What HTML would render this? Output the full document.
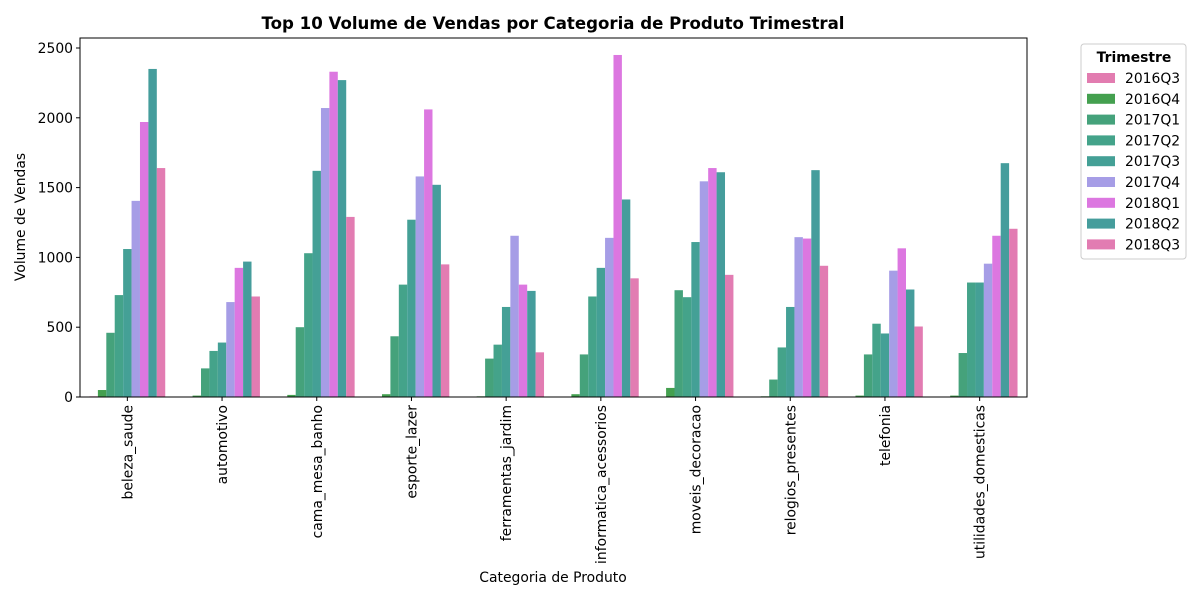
<!DOCTYPE html>
<html><head><meta charset="utf-8"><style>
body{margin:0;background:#fff;font-family:"Liberation Sans","DejaVu Sans",sans-serif}
</style></head><body>
<svg id="chart" width="1200" height="600" xmlns="http://www.w3.org/2000/svg" font-family="DejaVu Sans, Liberation Sans, sans-serif">
<rect width="1200" height="600" fill="#fff"/>
<text x="553" y="29" text-anchor="middle" font-size="16.6" font-weight="bold">Top 10 Volume de Vendas por Categoria de Produto Trimestral</text>
<g id="plot"></g>
<text x="553" y="582" text-anchor="middle" font-size="13.9">Categoria de Produto</text>
<text transform="translate(25,217) rotate(-90)" text-anchor="middle" font-size="13.9">Volume de Vendas</text>
<g id="legend"></g>
</svg>
<script>
const categories=["beleza_saude","automotivo","cama_mesa_banho","esporte_lazer","ferramentas_jardim","informatica_acessorios","moveis_decoracao","relogios_presentes","telefonia","utilidades_domesticas"];
const quarters=["2016Q3","2016Q4","2017Q1","2017Q2","2017Q3","2017Q4","2018Q1","2018Q2","2018Q3"];
const colors=["#e27cb0","#44a04f","#45a27b","#44a38a","#44a096","#a69de6","#dc77e0","#459d9c","#e27cb2"];
const s2016Q3=[5,0,0,0,0,0,0,0,0,0];
const s2016Q4=[50,10,15,20,5,20,65,5,10,10];
const s2017Q1=[460,205,500,435,275,305,765,125,305,315];
const s2017Q2=[730,330,1030,805,375,720,715,355,525,820];
const s2017Q3=[1060,390,1620,1270,645,925,1110,645,455,820];
const s2017Q4=[1405,680,2070,1580,1155,1140,1545,1145,905,955];
const s2018Q1=[1970,925,2330,2060,805,2450,1640,1135,1065,1155];
const s2018Q2=[2350,970,2270,1520,760,1415,1610,1625,770,1675];
const s2018Q3=[1640,720,1290,950,320,850,875,940,505,1205];
const series=[s2016Q3,s2016Q4,s2017Q1,s2017Q2,s2017Q3,s2017Q4,s2018Q1,s2018Q2,s2018Q3];
const yTicks=[0,500,1000,1500,2000,2500];
const NS="http://www.w3.org/2000/svg";
const L=80,R=1027,T=38,B=397;
const y0=397,yPer=(397-48)/2500;
const y=v=>y0-v*yPer;
const step=(R-L)/categories.length;
const xc=i=>L+step*(i+0.5);
const bw=step*0.8/quarters.length;
const plot=document.getElementById('plot');
function mk(tag,attrs,parent){const e=document.createElementNS(NS,tag);for(const k in attrs)e.setAttribute(k,attrs[k]);(parent||plot).appendChild(e);return e;}
series.forEach((vals,s)=>{vals.forEach((v,i)=>{
 const x=xc(i)-step*0.4+s*bw;
 const r=mk('rect',{x:x,y:y(v),width:bw,height:v*yPer,fill:colors[s]});
 
 
});});
const frame=mk('rect',{x:L,y:T,width:R-L,height:B-T,fill:'none',stroke:'#000','stroke-width':1});


yTicks.forEach(t=>{
 mk('line',{x1:L-4,x2:L,y1:y(t),y2:y(t),stroke:'#000'});
 const tx=mk('text',{x:L-7,y:y(t)+5,'text-anchor':'end','font-size':'13.9'});
 tx.textContent=t;
 
 
});
categories.forEach((c,i)=>{
 mk('line',{x1:xc(i),x2:xc(i),y1:B,y2:B+4,stroke:'#000'});
 const tx=mk('text',{transform:`translate(${xc(i)+5},${B+8}) rotate(-90)`,'text-anchor':'end','font-size':'13.9'});
 tx.textContent=c;
 
 
});
const lg=document.getElementById('legend');
mk('rect',{x:1081,y:44,width:105,height:215,rx:3,fill:'#fff',stroke:'#ccc'},lg);
const lt=mk('text',{x:1134,y:62,'text-anchor':'middle','font-size':'13.9','font-weight':'bold'},lg);
lt.textContent='Trimestre';
quarters.forEach((q,s)=>{
 const yy=78+s*20.8;
 mk('rect',{x:1087,y:yy-5,width:28,height:10,fill:colors[s]},lg);
 const t=mk('text',{x:1125,y:yy+5,'font-size':'13.9'},lg);
 t.textContent=q;
 
 
});
</script>
</body></html>
